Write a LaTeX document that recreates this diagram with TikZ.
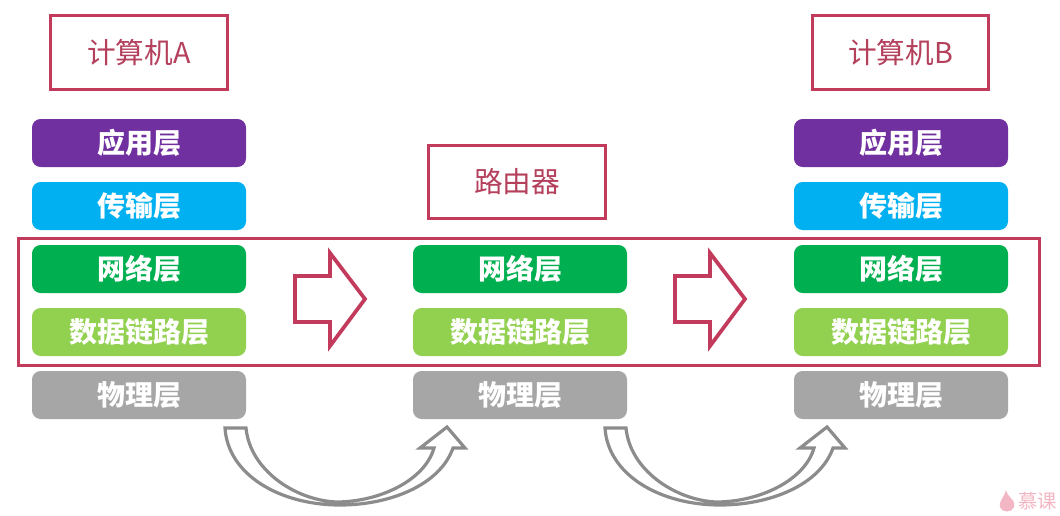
\documentclass[tikz,border=0pt]{standalone}
\usepackage{fontspec}
\setmainfont{Noto Sans CJK SC}
\definecolor{framered}{HTML}{C23B5C}
\definecolor{titlered}{HTML}{B4405C}
\definecolor{layerpurple}{HTML}{7030A0}
\definecolor{layerblue}{HTML}{00B0F0}
\definecolor{layergreen}{HTML}{00B050}
\definecolor{layerlime}{HTML}{92D050}
\definecolor{layergray}{HTML}{A6A6A6}
\definecolor{curvegray}{HTML}{8C8C8C}
\definecolor{markpink}{HTML}{F3B6C4}
\tikzset{
  layerbox/.style={rounded corners=6.5pt,minimum width=160.5pt,minimum height=36pt,inner sep=0pt,
    text=white,font=\fontsize{21}{21}\selectfont\bfseries,anchor=center},
  titlebox/.style={draw=framered,line width=2.4pt,minimum width=132.5pt,minimum height=55pt,inner sep=0pt,
    text=titlered,font=\fontsize{21.5}{21.5}\selectfont},
  blockarrow/.style={draw=framered,line width=2.8pt,fill=white,miter limit=10},
  curvearrow/.style={draw=curvegray,line width=2.4pt,fill=white,line join=miter}
}
\begin{document}
\begin{tikzpicture}[x=0.75pt,y=-0.75pt]
\useasboundingbox (0,0) rectangle (1060,515);
\fill[white] (0,0) rectangle (1060,515);
% layer stacks
\foreach \nm/\cx in {a/139,r/520,b/901}{
  \node[layerbox,fill=layergreen] (\nm net) at (\cx,269) {\raisebox{-1.2pt}{网络层}};
  \node[layerbox,fill=layerlime] (\nm link) at (\cx,332) {\raisebox{-1.2pt}{数据链路层}};
  \node[layerbox,fill=layergray] (\nm phy) at (\cx,395) {\raisebox{-1.2pt}{物理层}};
}
\foreach \nm/\cx in {a/139,b/901}{
  \node[layerbox,fill=layerpurple] (\nm app) at (\cx,143) {\raisebox{-1.2pt}{应用层}};
  \node[layerbox,fill=layerblue] (\nm trans) at (\cx,206) {\raisebox{-1.2pt}{传输层}};
}
% titles
\node[titlebox] (ta) at (139,52.5) {\raisebox{-1.2pt}{计算机A}};
\node[titlebox] (tr) at (517,182) {\raisebox{-1.2pt}{路由器}};
\node[titlebox] (tb) at (900.5,52.5) {\raisebox{-1.2pt}{计算机B}};
% highlight frame
\node[draw=framered,line width=2.6pt,minimum width=765.5pt,minimum height=95pt,inner sep=0pt] (frame) at (529,302) {};
% block arrows
\foreach \dx in {0,380}{
  \draw[blockarrow,xshift=\dx*0.75pt] (295,276) -- (330,276) -- (330,253) -- (365,299) -- (330,346) -- (330,322) -- (295,322) -- cycle;
}
% curved arrows
\foreach \dx in {0,380}{
  \draw[curvearrow,xshift=\dx*0.75pt]
    (225,428) -- (246,428)
    .. controls (250,470) and (295,500) .. (336,502)
    .. controls (380,502) and (425,480) .. (434,448)
    -- (420,448) -- (447,427) -- (465,448) -- (453,448)
    .. controls (440,485) and (390,505) .. (340,505)
    .. controls (280,505) and (228,475) .. cycle;
}
% watermark
\fill[markpink] (1006,490) .. controls (1007,497) and (1017,501) .. (1014,507)
  .. controls (1012,513) and (1002,513) .. (1000,507)
  .. controls (998,502) and (1004,498) .. (1006,490) -- cycle;
\node[text=markpink,font=\fontsize{14.5}{14.5}\selectfont,anchor=west,inner sep=0pt] (mark) at (1018,501) {慕课};
\end{tikzpicture}
\end{document}
